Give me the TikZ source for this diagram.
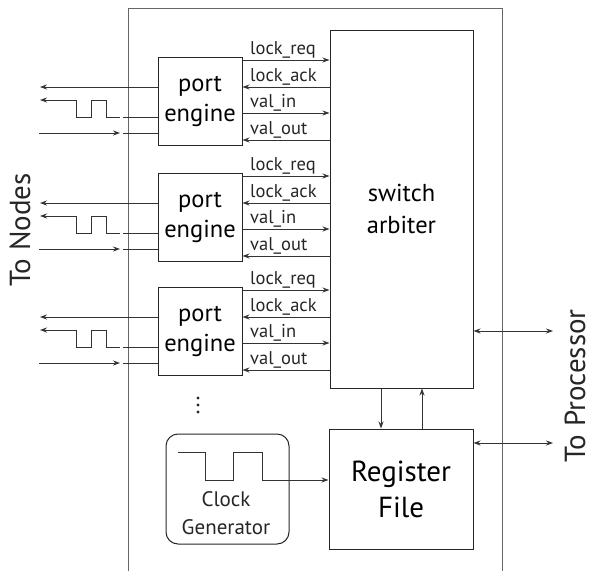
\documentclass[tikz,border=0pt]{standalone}
\usepackage{fontspec}
\setmainfont{PT Sans}
\usetikzlibrary{arrows.meta}
\tikzset{
  ln/.style={draw=black!80, line width=0.9pt},
  tip/.style={-{Stealth[length=7pt,width=5pt]}},
  tipb/.style={{Stealth[length=7pt,width=5pt]}-{Stealth[length=7pt,width=5pt]}},
  box/.style={draw=black!85, line width=1pt, rectangle, inner sep=0pt, align=center},
  sig/.style={anchor=south west, inner sep=0pt, font=\fontsize{18.5}{20}\selectfont, text=black!85},
  outer/.style={draw=black!60, line width=1pt}
}
\begin{document}
\begin{tikzpicture}[x=1pt,y=-1pt]
\useasboundingbox (0,0) rectangle (592,571);
% outer module
\draw[outer] (128,571) -- (128,8) -- (502,8) -- (502,571);
% switch arbiter
\node[box, minimum width=143pt, minimum height=358pt, font=\fontsize{24.5}{32}\selectfont] (arb) at (401.5,209) {switch\\arbiter};
% register file
\node[box, minimum width=144pt, minimum height=120pt, font=\fontsize{29}{36}\selectfont] (reg) at (401,489) {Register\\File};
% clock generator
\node[box, rounded corners=12pt, minimum width=123pt, minimum height=110pt] (clk) at (227.5,489) {};
\node[inner sep=0pt, align=center, font=\fontsize{21}{28}\selectfont, text=black!85] (clktxt) at (226,513) {Clock\\Generator};
% port engines
\foreach \t/\n in {57/1,173/2,287/3}{
  \node[box, minimum width=84pt, minimum height=88pt, font=\fontsize{24.5}{30}\selectfont] (e\n) at (200,\t+44) {port\\engine};
  % signals to arbiter
  \draw[ln,tip] (e\n.east |- 0,\t+3) -- (arb.west |- 0,\t+3);
  \draw[ln,tip] (arb.west |- 0,\t+30) -- (e\n.east |- 0,\t+30);
  \draw[ln,tip] (e\n.east |- 0,\t+56) -- (arb.west |- 0,\t+56);
  \draw[ln,tip] (arb.west |- 0,\t+83) -- (e\n.east |- 0,\t+83);
  \node[sig] (lr\n) at (250,\t+1) {lock\_req};
  \node[sig] (la\n) at (250,\t+28) {lock\_ack};
  \node[sig] (vi\n) at (250,\t+54) {val\_in};
  \node[sig] (vo\n) at (250,\t+81) {val\_out};
  % node-side lines
  \coordinate (out\n) at (40,\t+30);
  \coordinate (wv\n) at (40,\t+43);
  \coordinate (inA\n) at (39,\t+76);
  \coordinate (inB\n) at (120,\t+76);
  \draw[ln,tip] (e\n.west |- out\n) -- (out\n);
  \draw[ln] (e\n.west |- 0,\t+60) -- (123,\t+60);
  \draw[ln,tip] (120,\t+60) -- (106,\t+60) -- (106,\t+43) -- (91,\t+43) -- (91,\t+60) -- (76,\t+60) -- (76,\t+43) -- (wv\n);
  \draw[ln,tip] (inA\n) -- (inB\n);
  \draw[ln] (123,\t+76) -- (e\n.west |- 0,\t+76);
}
% dots
\foreach \yy in {398,405,412} \fill[black!85] (198,\yy) circle (1.6pt);
% arbiter <-> register file
\draw[ln,tip] (arb.south -| 381,0) -- (reg.north -| 381,0);
\draw[ln,tip] (reg.north -| 422,0) -- (arb.south -| 422,0);
% to processor
\coordinate (p1) at (553,331);
\coordinate (p2) at (553,443);
\draw[ln,tipb] (arb.east |- p1) -- (p1);
\draw[ln,tipb] (reg.east |- p2) -- (p2);
% clock waveform
\draw[ln,tip] (178,452) -- (205,452) -- (205,480) -- (233,480) -- (233,452) -- (262,452) -- (262,480) -- (reg.west |- 0,480);
% side labels
\node[rotate=90, inner sep=0pt, font=\fontsize{29}{32}\selectfont, text=black!85] (tn) at (20,230) {To Nodes};
\node[rotate=90, inner sep=0pt, font=\fontsize{29}{32}\selectfont, text=black!85] (tp) at (575,386) {To Processor};
\end{tikzpicture}
\end{document}
